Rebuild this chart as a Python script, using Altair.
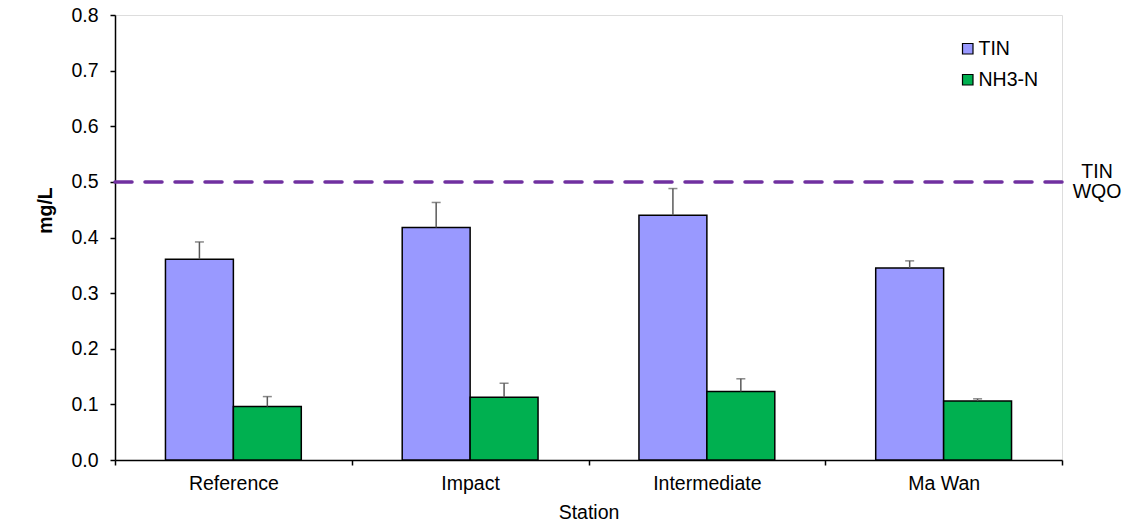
import altair as alt
import pandas as pd

stations = ["Reference", "Impact", "Intermediate", "Ma Wan"]
tin_mean = [0.361, 0.418, 0.440, 0.345]
tin_err = [0.031, 0.045, 0.048, 0.013]
nh3_mean = [0.096, 0.113, 0.123, 0.106]
nh3_err = [0.018, 0.025, 0.023, 0.004]
params = ["TIN", "NH3-N"]
wqo_value = 0.5
wqo_label = "TIN\nWQO"

rows = []
for i, s in enumerate(stations):
    rows.append({"Station": s, "Parameter": "TIN", "value": tin_mean[i],
                 "top": tin_mean[i] + tin_err[i]})
    rows.append({"Station": s, "Parameter": "NH3-N", "value": nh3_mean[i],
                 "top": nh3_mean[i] + nh3_err[i]})
df = pd.DataFrame(rows)

FONT = "Liberation Sans"
FS = 19.5

x_enc = alt.X("Station:N", sort=stations,
              scale=alt.Scale(paddingInner=0, paddingOuter=0),
              axis=alt.Axis(title="Station", labelAngle=0, tickBand="extent",
                            labelFontSize=FS, titleFontSize=FS, titleFontWeight="normal",
                            labelPadding=9, tickSize=5,
                            titleY=58, titleBaseline="alphabetic",
                            domainColor="black", tickColor="black", labelColor="black",
                            titleColor="black", grid=False, domainWidth=1.5, tickWidth=1.5))
xoff = alt.XOffset("Parameter:N", sort=params,
                   scale=alt.Scale(domain=params, paddingInner=0, paddingOuter=0.743))
y_enc = alt.Y("value:Q",
              scale=alt.Scale(domain=[0, 0.8], nice=False),
              axis=alt.Axis(title="mg/L", values=[0, 0.1, 0.2, 0.3, 0.4, 0.5, 0.6, 0.7, 0.8],
                            format=".1f", labelFontSize=FS, titleFontSize=FS,
                            titleFontWeight="bold", grid=False, tickSize=5, labelPadding=12,
                            domainColor="black", tickColor="black", labelColor="black",
                            titleColor="black", titleX=-70, titleY=195,
                            titleBaseline="middle", titleAngle=-90,
                            domainWidth=1.5, tickWidth=1.5))

base = alt.Chart(df)

bars = base.mark_bar(stroke="black", strokeWidth=1.5).encode(
    x=x_enc, xOffset=xoff, y=y_enc,
    color=alt.Color("Parameter:N", sort=params,
                    scale=alt.Scale(domain=params, range=["#9999FF", "#00B050"]),
                    legend=alt.Legend(title=None, orient="none", legendX=843, legendY=24,
                                      symbolType="square", symbolSize=110,
                                      symbolStrokeColor="black", symbolStrokeWidth=1.2,
                                      labelFontSize=FS, labelColor="black", labelFont=FONT,
                                      rowPadding=10, labelOffset=1)),
)

err = base.mark_rule(color="#595959", strokeWidth=1.5).encode(
    x=alt.X("Station:N", sort=stations), xOffset=alt.XOffset("Parameter:N", sort=params),
    y=alt.Y("value:Q"), y2="top:Q",
)
caps = base.mark_tick(color="#595959", thickness=1.5, size=9, orient="horizontal").encode(
    x=alt.X("Station:N", sort=stations), xOffset=alt.XOffset("Parameter:N", sort=params),
    y=alt.Y("top:Q"),
)

wqo_df = pd.DataFrame({"y": [wqo_value], "label": [wqo_label]})
wqo_line = alt.Chart(wqo_df).mark_rule(color="#7030A0", strokeWidth=3.5,
                                        strokeDash=[17, 13], strokeCap="round").encode(
    y=alt.Y("y:Q"), x=alt.value(0), x2=alt.value(947)
)
wqo_text = alt.Chart(wqo_df).mark_text(fontSize=FS, font=FONT, color="black",
                                       align="center", baseline="alphabetic", dy=-4,
                                       lineBreak="\n", lineHeight=20).encode(
    y=alt.Y("y:Q"), x=alt.value(982), text="label:N"
)

chart = alt.layer(bars, err, caps, wqo_line, wqo_text).properties(
    width=947, height=445,
    autosize=alt.AutoSizeParams(type="none"),
    padding={"left": 107, "top": 7, "right": 65, "bottom": 65},
).configure_view(stroke="black", strokeWidth=1.5).configure(
    font=FONT
).configure_axis(labelFont=FONT, titleFont=FONT)

chart.save("out.html", embed_options={"renderer": "svg", "actions": False})
